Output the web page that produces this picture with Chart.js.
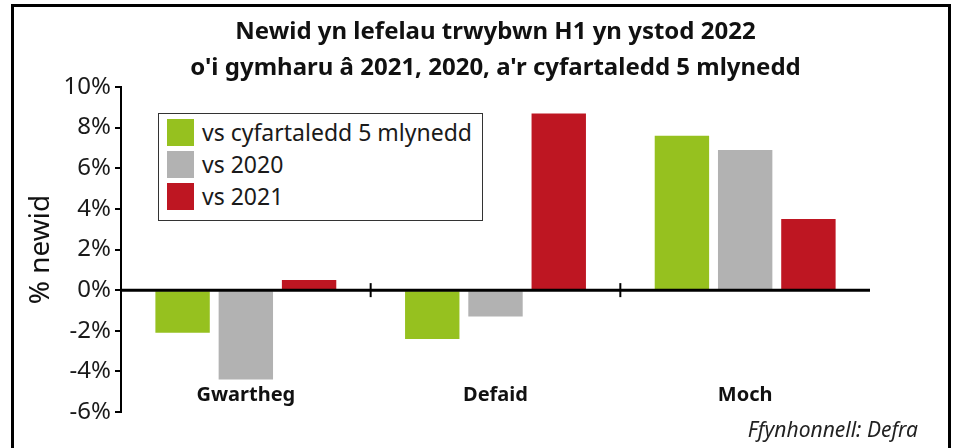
<!DOCTYPE html>
<html>
<head>
<meta charset="utf-8">
<script src="https://cdn.jsdelivr.net/npm/chart.js@4.4.0/dist/chart.umd.min.js"></script>
<style>
  body { margin: 0; background: #fff; }
  #wrap { position: relative; width: 955px; height: 448px; overflow: hidden; font-family: 'Noto Sans', sans-serif; }
  #frame { position: absolute; left: 11px; top: 4px; width: 934px; height: 460px; border: 3px solid #000; pointer-events: none; }
  #legend { position: absolute; left: 158px; top: 113px; width: 323px; height: 104px; border: 1.5px solid #333; background: #fff; padding-top: 2px; }
  .item { display: flex; align-items: center; height: 32px; padding-left: 8px; font-size: 23px; color: #1a1a1a; }
  .sw { width: 27px; height: 27px; margin-right: 8px; }
  #source { position: absolute; right: 37px; top: 415px; font-size: 21px; font-style: italic; color: #222; }
</style>
</head>
<body>
<div id="wrap">
  <canvas id="chart" width="955" height="448"></canvas>
  <div id="frame"></div>
  <div id="legend"></div>
  <div id="source">Ffynhonnell: Defra</div>
</div>
<script>
const categories = ['Gwartheg', 'Defaid', 'Moch'];
const seriesNames = ['vs cyfartaledd 5 mlynedd', 'vs 2020', 'vs 2021'];
const seriesColors = ['#96c11f', '#b2b2b2', '#be1622'];
const vsAverage = [-2.1, -2.4, 7.6];
const vs2020 = [-4.4, -1.3, 6.9];
const vs2021 = [0.5, 8.7, 3.5];
const titleLines = ['Newid yn lefelau trwybwn H1 yn ystod 2022', "o'i gymharu â 2021, 2020, a'r cyfartaledd 5 mlynedd"];

const seriesValues = [vsAverage, vs2020, vs2021];

// zero line, small ticks between categories, and category names low in the plot
const zeroAxis = {
    id: 'zeroAxis',
    afterDatasetsDraw(chart) {
        const ctx = chart.ctx;
        const x = chart.scales.x;
        const y = chart.scales.y;
        const y0 = y.getPixelForValue(0);
        ctx.save();
        ctx.strokeStyle = '#000';
        ctx.lineWidth = 3;
        ctx.beginPath();
        ctx.moveTo(x.left, y0);
        ctx.lineTo(x.right, y0);
        ctx.stroke();
        ctx.lineWidth = 2;
        for (let i = 0; i < categories.length - 1; i++) {
            const bx = (x.getPixelForValue(i) + x.getPixelForValue(i + 1)) / 2;
            ctx.beginPath();
            ctx.moveTo(bx, y0 - 7);
            ctx.lineTo(bx, y0 + 7);
            ctx.stroke();
        }
        ctx.fillStyle = '#111';
        ctx.font = 'bold 20px "Noto Sans"';
        ctx.textAlign = 'center';
        ctx.textBaseline = 'middle';
        categories.forEach((c, i) => {
            ctx.fillText(c, x.getPixelForValue(i), y.bottom - 17);
        });
        ctx.restore();
    }
};

const chart = new Chart(document.getElementById('chart').getContext('2d'), {
    type: 'bar',
    data: {
        labels: categories,
        datasets: seriesNames.map((name, i) => ({
            label: name,
            data: seriesValues[i],
            backgroundColor: seriesColors[i],
            borderWidth: 0
        }))
    },
    options: {
        responsive: false,
        animation: false,
        datasets: {
            bar: { categoryPercentage: 0.76, barPercentage: 0.86 }
        },
        layout: { padding: { left: 24, right: 85, top: 0, bottom: 0 } },
        plugins: {
            legend: { display: false },
            tooltip: { enabled: false },
            title: {
                display: true,
                text: titleLines,
                fullSize: false,
                color: '#111',
                font: { family: 'Noto Sans', size: 24, weight: 'bold', lineHeight: 1.5 },
                padding: { top: 14, bottom: 1 }
            }
        },
        scales: {
            x: {
                grid: { display: false },
                border: { display: false },
                ticks: { display: false },
                afterFit(scale) { scale.height = 36; }
            },
            y: {
                min: -6,
                max: 10,
                grid: { drawOnChartArea: false, color: '#000', lineWidth: 2, tickLength: 6 },
                border: { color: '#000', width: 2 },
                ticks: {
                    stepSize: 2,
                    color: '#1a1a1a',
                    padding: 4,
                    font: { family: 'Noto Sans', size: 24 },
                    callback: v => v + '%'
                },
                title: {
                    display: true,
                    text: '% newid',
                    color: '#111',
                    font: { family: 'Noto Sans', size: 28 },
                    padding: { top: 0, bottom: 2 }
                }
            }
        }
    },
    plugins: [zeroAxis]
});

const legend = document.getElementById('legend');
chart.data.datasets.forEach(ds => {
    const row = document.createElement('div');
    row.className = 'item';
    const sw = document.createElement('span');
    sw.className = 'sw';
    sw.style.background = ds.backgroundColor;
    row.appendChild(sw);
    row.appendChild(document.createTextNode(ds.label));
    legend.appendChild(row);
});
</script>
</body>
</html>
